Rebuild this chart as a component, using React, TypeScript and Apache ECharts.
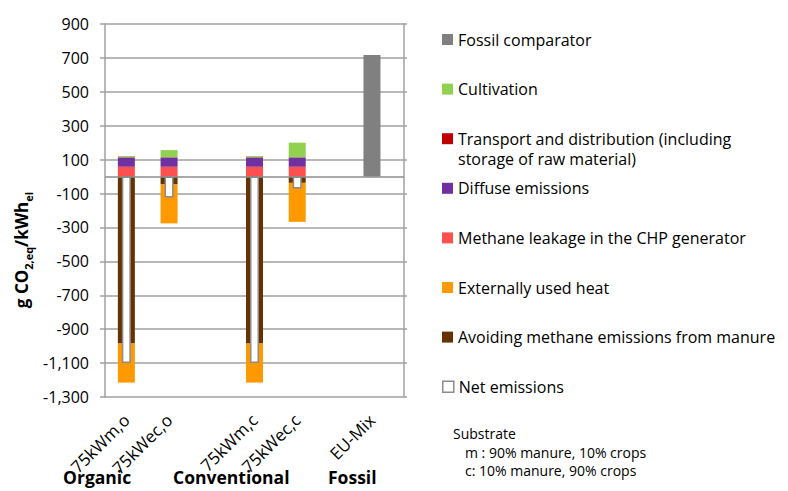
import React, { useEffect, useRef } from 'react';
import * as echarts from 'echarts';

// ---- data ----
const categories = ['75kWm,o', '75kWec,o', '', '75kWm,c', '75kWec,c', '', 'EU-Mix'];
// half-width slots used to place the fossil bar and its label (slot 12 ~ EU-Mix)
const fossilSlots = ['', '', '', '', '', '', '', '', '', '', '', '', 'EU-Mix', ''];
const methaneLeakage = [58, 58, null, 58, 58, null, null];
const diffuseEmissions = [55, 55, null, 55, 55, null, null];
const transportDistribution = [1, 1, null, 1, 1, null, null];
const cultivation = [7, 42, null, 7, 86, null, null];
const avoidingMethane = [-985, -46, null, -985, -37, null, null];
const externalHeat = [-230, -230, null, -230, -230, null, null];
const netEmissions = [-1099, -124, null, -1099, -70, null, null];
const fossilComparator = [null, null, null, null, null, null, null, null, null, null, null, null, 717, null];
const yMin = -1300;
const yMax = 900;
const yStep = 200;

const legendNames = [
  'Fossil comparator',
  'Cultivation',
  'Transport and distribution (including storage of raw material)',
  'Diffuse emissions',
  'Methane leakage in the CHP generator',
  'Externally used heat',
  'Avoiding methane emissions from manure',
  'Net emissions',
];
const groupLabels = ['Organic', 'Conventional', 'Fossil'];
const substrateLines = ['Substrate', 'm : 90% manure, 10% crops', 'c: 10% manure, 90% crops'];

const FONT = 'Open Sans';

export default function App() {
  const ref = useRef<HTMLDivElement>(null);
  useEffect(() => {
    document.body.style.margin = '0';
    if (!ref.current) return;
    const chart = echarts.init(ref.current, null, { renderer: 'svg' });
    const gridColor = '#a0a0a0';
    const barW = 17;
    const legendTop0 = 39.5;
    const legendStep = 49.6;

    const legends = legendNames.map((name, i) => ({
      data: [
        name === 'Net emissions'
          ? { name, itemStyle: { color: '#ffffff', borderColor: '#8c8c8c', borderWidth: 1.5 } }
          : { name },
      ],
      left: 442,
      top: legendTop0 + i * legendStep - 10,
      padding: 0,
      orient: 'vertical',
      icon: 'rect',
      itemWidth: 11,
      itemHeight: 11,
      selectedMode: false,
      formatter: (n: string) => (n.startsWith('Transport') ? 'Transport and distribution (including' : n),
      textStyle: { fontFamily: FONT, fontSize: 16, color: '#000', lineHeight: 20 },
    }));

    const xLabel = {
      interval: 0,
      rotate: 45,
      margin: 20,
      fontFamily: FONT,
      fontSize: 17,
      color: '#000',
    };

    chart.setOption({
      animation: false,
      backgroundColor: '#ffffff',
      grid: { left: 105, top: 24, width: 299, height: 373, outerBoundsMode: 'none' },
      legend: legends,
      xAxis: [
        {
          type: 'category',
          position: 'bottom',
          data: categories,
          axisLine: { show: false, onZero: false },
          axisTick: { show: false },
          axisLabel: { ...xLabel, formatter: (v: string) => (v === 'EU-Mix' ? '' : v) },
        },
        {
          type: 'category',
          position: 'bottom',
          data: fossilSlots,
          axisLine: { show: false, onZero: false },
          axisTick: { show: false },
          splitLine: { show: false },
          axisLabel: xLabel,
        },
        { type: 'category', data: categories, show: false },
      ],
      yAxis: [
        {
          type: 'value',
          min: yMin,
          max: yMax,
          interval: yStep,
          axisLine: { show: true, lineStyle: { color: gridColor, width: 1.5 } },
          axisTick: { show: true, length: 5, lineStyle: { color: gridColor, width: 1.5 } },
          axisLabel: {
            margin: 16,
            fontFamily: FONT,
            fontSize: 16,
            color: '#000',
            formatter: (v: number) => v.toLocaleString('en-US'),
          },
          splitLine: { show: true, lineStyle: { color: gridColor, width: 1.5 } },
        },
        {
          type: 'value',
          position: 'right',
          min: yMin,
          max: yMax,
          interval: yStep,
          axisLine: { show: true, lineStyle: { color: gridColor, width: 1.5 } },
          axisTick: { show: true, length: 3, lineStyle: { color: gridColor, width: 1.5 } },
          axisLabel: { show: false },
          splitLine: { show: false },
        },
      ],
      series: [
        { name: legendNames[4], type: 'bar', stack: 'a', barWidth: barW, data: methaneLeakage, itemStyle: { color: '#ff5050' } },
        { name: legendNames[3], type: 'bar', stack: 'a', barWidth: barW, data: diffuseEmissions, itemStyle: { color: '#7030a0' } },
        { name: legendNames[2], type: 'bar', stack: 'a', barWidth: barW, data: transportDistribution, itemStyle: { color: '#c00000' } },
        { name: legendNames[1], type: 'bar', stack: 'a', barWidth: barW, data: cultivation, itemStyle: { color: '#92d050' } },
        { name: legendNames[6], type: 'bar', stack: 'a', barWidth: barW, data: avoidingMethane, itemStyle: { color: '#663300' } },
        { name: legendNames[5], type: 'bar', stack: 'a', barWidth: barW, data: externalHeat, itemStyle: { color: '#ff9900' } },
        { name: legendNames[0], type: 'bar', xAxisIndex: 1, barWidth: barW, data: fossilComparator, itemStyle: { color: '#808080' } },
        {
          name: legendNames[7],
          type: 'bar',
          xAxisIndex: 2,
          barWidth: 9,
          data: netEmissions,
          itemStyle: { color: '#ffffff', borderColor: '#8c8c8c', borderWidth: 1.5 },
          markLine: {
            silent: true,
            symbol: 'none',
            label: { show: false },
            lineStyle: { color: '#8c8c8c', width: 1.5, type: 'solid' },
            data: [{ yAxis: 0 }],
          },
        },
      ],
      graphic: [
        {
          type: 'text',
          x: 21,
          y: 250,
          rotation: Math.PI / 2,
          style: {
            text: '{a|g CO}{b|2,eq}{a|/kWh}{b|el}',
            align: 'center',
            verticalAlign: 'middle',
            rich: {
              a: { fontFamily: FONT, fontWeight: 'bold', fontSize: 17, lineHeight: 26, fill: '#000' },
              b: { fontFamily: FONT, fontWeight: 'bold', fontSize: 11, lineHeight: 26, verticalAlign: 'bottom', fill: '#000' },
            },
          },
        },
        {
          type: 'text',
          left: 458,
          top: legendTop0 + 2 * legendStep + 12,
          style: { text: 'storage of raw material)', fontFamily: FONT, fontSize: 16, fill: '#000' },
        },
        ...groupLabels.map((t, i) => ({
          type: 'text',
          x: [63, 173, 328][i],
          y: 486,
          style: { text: t, fontFamily: FONT, fontWeight: 'bold', fontSize: 17.5, fill: '#000', verticalAlign: 'bottom' },
        })),
        ...substrateLines.map((t, i) => ({
          type: 'text',
          x: i === 0 ? 453 : 465,
          y: [433, 452, 470][i],
          style: { text: t, fontFamily: FONT, fontSize: 14, fill: '#000', verticalAlign: 'middle' },
        })),
      ],
    });
    return () => chart.dispose();
  }, []);
  return <div ref={ref} style={{ width: 788, height: 491 }} />;
}
